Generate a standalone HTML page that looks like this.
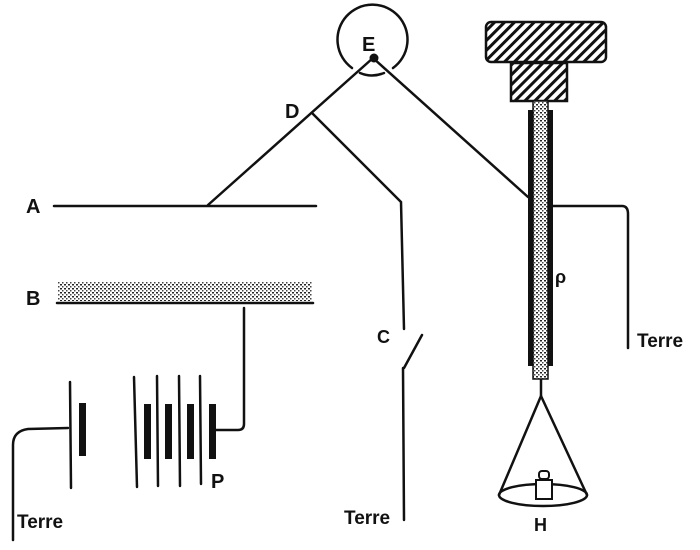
<!DOCTYPE html>
<html><head><style>
html,body{margin:0;padding:0;background:#fff;}
svg{display:block;}
text{font-family:"Liberation Sans",sans-serif;font-weight:bold;fill:#111;}
</style></head><body>
<svg width="700" height="550" viewBox="0 0 700 550" xmlns="http://www.w3.org/2000/svg">
<defs>
<pattern id="hatch" width="7" height="7" patternUnits="userSpaceOnUse" patternTransform="rotate(45)">
<rect width="7" height="7" fill="#fff"/><rect width="3" height="7" fill="#111"/>
</pattern>
<pattern id="dots" width="4" height="4" patternUnits="userSpaceOnUse">
<rect width="4" height="4" fill="#fff"/><rect width="2" height="1.5" fill="#222"/><rect x="2" y="2" width="1.5" height="1.5" fill="#444"/>
</pattern>
</defs>
<g stroke="#111" fill="none" stroke-width="2.5" stroke-linecap="round">
<path d="M352 68 A35 35 0 1 1 393 68"/>
<path d="M360 73 Q372 78 384 73"/>
<line x1="373" y1="58" x2="208" y2="205"/>
<line x1="373" y1="58" x2="528" y2="197"/>
<polyline points="313,114 401,202 404,329"/>
<line x1="422" y1="335" x2="404" y2="368"/>
<line x1="403" y1="368" x2="404" y2="520"/>
<line x1="54" y1="206" x2="316" y2="206"/>
<line x1="57" y1="303" x2="313" y2="303"/>
<path d="M244 308 L244 424 Q244 430 238 430 L216 430"/>
<line x1="70" y1="382" x2="71" y2="488"/>
<line x1="134" y1="377" x2="137" y2="487"/>
<line x1="157" y1="376" x2="158" y2="486"/>
<line x1="179" y1="376" x2="180" y2="486"/>
<line x1="200" y1="376" x2="201" y2="484"/>
<path d="M68 428 L28 429 Q13 431 13 445 L13 540"/>
<path d="M553 206 L622 206 Q628 206 628 214 L628 348"/>
<line x1="541" y1="378" x2="541" y2="395"/>
<line x1="541" y1="396" x2="499" y2="495"/>
<line x1="541" y1="396" x2="587" y2="495"/>
<ellipse cx="543" cy="495" rx="44" ry="11"/>
</g>
<g fill="#111">
<rect x="79" y="403" width="7" height="53"/>
<rect x="144" y="404" width="7" height="55"/>
<rect x="165" y="404" width="7" height="55"/>
<rect x="187" y="404" width="7" height="55"/>
<rect x="209" y="404" width="7" height="55"/>
<circle cx="374" cy="58" r="4.5"/>
</g>
<rect x="58" y="282" width="254" height="19" fill="url(#dots)"/>
<rect x="486" y="22" width="120" height="40" rx="5" fill="url(#hatch)" stroke="#111" stroke-width="2.5"/>
<rect x="511" y="63" width="56" height="38" fill="url(#hatch)" stroke="#111" stroke-width="2.5"/>
<rect x="528" y="110" width="25" height="256" fill="#111"/>
<rect x="533" y="101" width="15" height="278" fill="url(#dots)" stroke="#111" stroke-width="1.5"/>
<rect x="536" y="480" width="16" height="19" fill="#fff" stroke="#111" stroke-width="2"/>
<rect x="539" y="471" width="10" height="8" rx="3" fill="#fff" stroke="#111" stroke-width="2"/>
<text x="362" y="51" font-size="20">E</text>
<text x="285" y="118" font-size="20">D</text>
<text x="26" y="213" font-size="20">A</text>
<text x="26" y="305" font-size="20">B</text>
<text x="377" y="343" font-size="18">C</text>
<text x="555" y="283" font-size="18">ρ</text>
<text x="211" y="488" font-size="20">P</text>
<text x="534" y="531" font-size="18">H</text>
<text x="17" y="528" font-size="19">Terre</text>
<text x="344" y="524" font-size="19">Terre</text>
<text x="637" y="347" font-size="19">Terre</text>
</svg>
</body></html>
